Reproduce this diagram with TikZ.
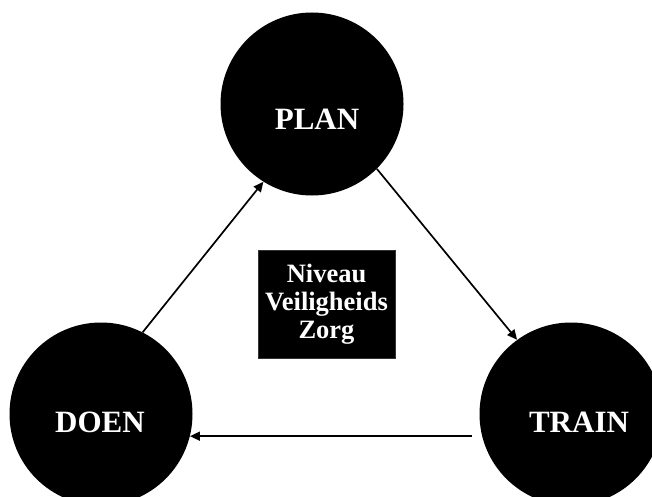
\documentclass[tikz,border=0pt]{standalone}
\usepackage{fontspec}
\setmainfont{Liberation Serif}
\usetikzlibrary{arrows.meta}
\begin{document}
\begin{tikzpicture}[x=1pt,y=-1pt,
  bigcircle/.style={circle,fill=black,minimum size=183pt,inner sep=0pt},
  circlelabel/.style={anchor=base,text=white,inner sep=0pt,font=\bfseries\fontsize{31}{37}\selectfont},
  centerbox/.style={fill=black,draw=black!80,minimum width=137pt,minimum height=108pt,text=white,align=center,inner sep=0pt,font=\bfseries\fontsize{26.5}{28}\selectfont},
  conn/.style={line width=1.7pt,-{Triangle[length=10pt,width=9pt]}}]
\useasboundingbox (0,0) rectangle (652,497);
\clip (0,0) rectangle (652,497);
\node[bigcircle] (plan) at (312,104) {};
\node[bigcircle] (doen) at (101,414) {};
\node[bigcircle] (train) at (571,414) {};
\node[circlelabel] (planlbl) at (317,130) {PLAN};
\node[circlelabel] (doenlbl) at (100,432) {DOEN};
\node[circlelabel] (trainlbl) at (579,432) {TRAIN};
\node[centerbox] (box) at (326.5,304) {Niveau\\Veiligheids\\Zorg};
\draw[conn] (doen.63) -- (plan.238);
\draw[conn] (plan.-45) -- (train.126);
\draw[conn,shorten <=10pt] (train.194) -- (doen.-14);
\end{tikzpicture}
\end{document}
